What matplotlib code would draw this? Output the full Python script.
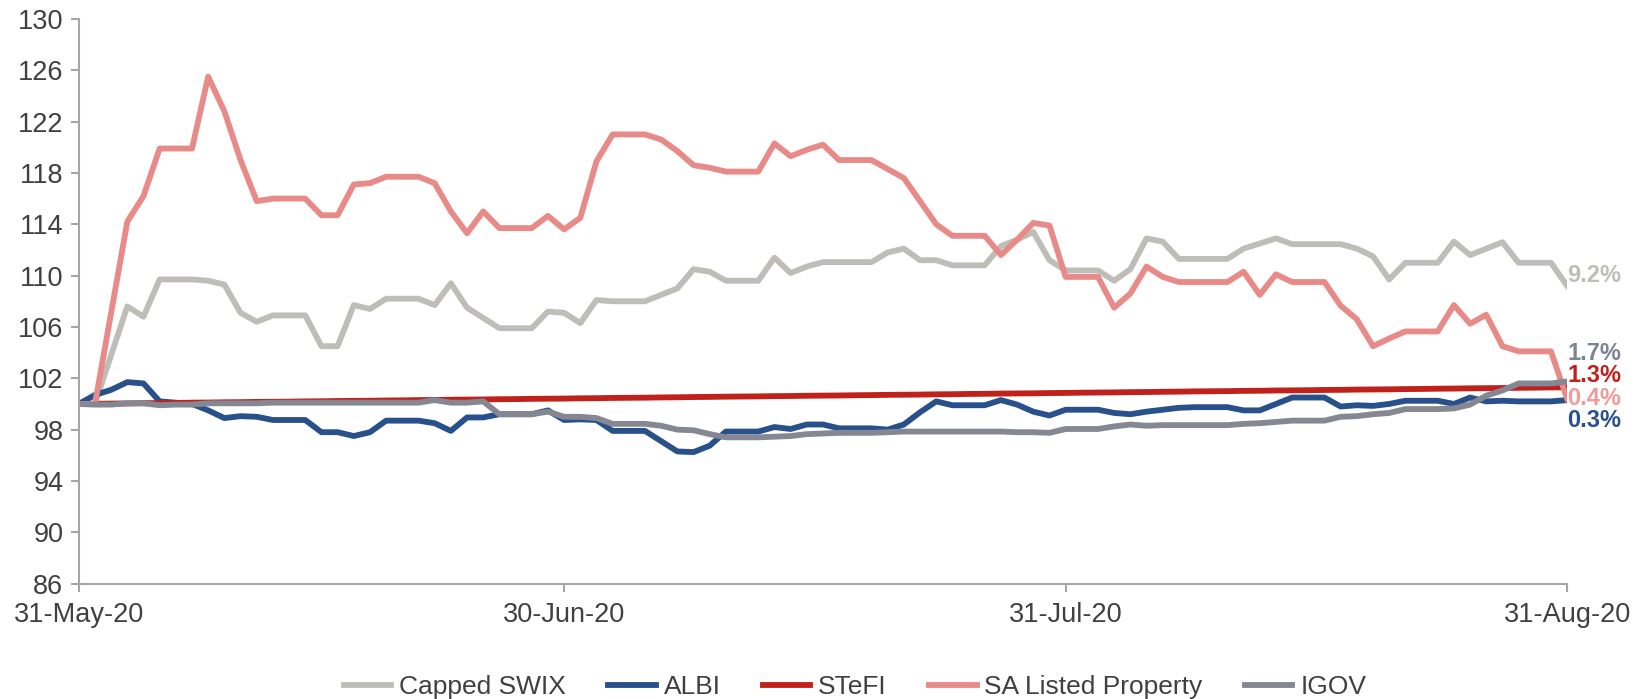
import pandas as pd
import matplotlib.pyplot as plt
import matplotlib.dates as mdates

# daily index values, 31-May-20 .. 31-Aug-20 (base 100)
dates = pd.date_range('2020-05-31', '2020-08-31', freq='D')

capped_swix = [
    100.0, 100.0, 103.8, 107.6, 106.8, 109.7, 109.7, 109.7, 109.6, 109.3,
    107.1, 106.4, 106.9, 106.9, 106.9, 104.5, 104.5, 107.7, 107.4, 108.2,
    108.2, 108.2, 107.7, 109.4, 107.5, 106.7, 105.9, 105.9, 105.9, 107.2,
    107.1, 106.3, 108.1, 108.0, 108.0, 108.0, 108.5, 109.0, 110.5, 110.3,
    109.6, 109.6, 109.6, 111.4, 110.2, 110.7, 111.05, 111.05, 111.05, 111.05,
    111.8, 112.1, 111.2, 111.2, 110.8, 110.8, 110.8, 112.3, 112.8, 113.4,
    111.2, 110.4, 110.4, 110.4, 109.6, 110.5, 112.9, 112.65, 111.3, 111.3,
    111.3, 111.3, 112.1, 112.5, 112.9, 112.45, 112.45, 112.45, 112.45, 112.1,
    111.5, 109.7, 111.0, 111.0, 111.0, 112.65, 111.6, 112.1, 112.6, 111.0,
    111.0, 111.0, 109.2,
]

albi = [
    100.0, 100.7, 101.1, 101.7, 101.6, 100.2, 100.1, 100.0, 99.5, 98.9,
    99.05, 99.0, 98.75, 98.75, 98.75, 97.8, 97.8, 97.5, 97.8, 98.7,
    98.7, 98.7, 98.5, 97.9, 98.95, 98.95, 99.2, 99.2, 99.2, 99.5,
    98.75, 98.8, 98.75, 97.9, 97.9, 97.9, 97.1, 96.3, 96.25, 96.75,
    97.85, 97.85, 97.85, 98.2, 98.05, 98.4, 98.4, 98.1, 98.1, 98.1,
    98.0, 98.4, 99.35, 100.2, 99.9, 99.9, 99.9, 100.3, 99.95, 99.4,
    99.1, 99.55, 99.55, 99.55, 99.3, 99.2, 99.4, 99.55, 99.7, 99.75,
    99.75, 99.75, 99.5, 99.5, 100.0, 100.5, 100.5, 100.5, 99.8, 99.9,
    99.85, 100.0, 100.25, 100.25, 100.25, 100.0, 100.5, 100.2, 100.25, 100.2,
    100.2, 100.2, 100.3,
]

stefi = [
    100.00, 100.01, 100.03, 100.04, 100.06, 100.07, 100.08, 100.10, 100.11, 100.13,
    100.14, 100.16, 100.17, 100.18, 100.20, 100.21, 100.23, 100.24, 100.25, 100.27,
    100.28, 100.30, 100.31, 100.33, 100.34, 100.35, 100.37, 100.38, 100.40, 100.41,
    100.42, 100.44, 100.45, 100.47, 100.48, 100.49, 100.51, 100.52, 100.54, 100.55,
    100.57, 100.58, 100.59, 100.61, 100.62, 100.64, 100.65, 100.66, 100.68, 100.69,
    100.71, 100.72, 100.73, 100.75, 100.76, 100.78, 100.79, 100.81, 100.82, 100.83,
    100.85, 100.86, 100.88, 100.89, 100.90, 100.92, 100.93, 100.95, 100.96, 100.98,
    100.99, 101.00, 101.02, 101.03, 101.05, 101.06, 101.07, 101.09, 101.10, 101.12,
    101.13, 101.14, 101.16, 101.17, 101.19, 101.20, 101.22, 101.23, 101.24, 101.26,
    101.27, 101.29, 101.30,
]

sa_listed_property = [
    100.0, 100.0, 107.1, 114.2, 116.2, 119.9, 119.9, 119.9, 125.5, 122.8,
    119.0, 115.8, 116.0, 116.0, 116.0, 114.7, 114.7, 117.1, 117.2, 117.7,
    117.7, 117.7, 117.2, 115.0, 113.3, 115.0, 113.7, 113.7, 113.7, 114.65,
    113.6, 114.5, 118.9, 121.0, 121.0, 121.0, 120.6, 119.7, 118.6, 118.4,
    118.1, 118.1, 118.1, 120.3, 119.3, 119.8, 120.2, 119.0, 119.0, 119.0,
    118.3, 117.6, 115.8, 114.0, 113.1, 113.1, 113.1, 111.6, 112.8, 114.1,
    113.9, 109.9, 109.9, 109.9, 107.5, 108.6, 110.7, 109.9, 109.5, 109.5,
    109.5, 109.5, 110.3, 108.5, 110.1, 109.5, 109.5, 109.5, 107.65, 106.6,
    104.5, 105.1, 105.65, 105.65, 105.65, 107.7, 106.25, 106.95, 104.5, 104.1,
    104.1, 104.1, 100.4,
]

igov = [
    100.0, 99.95, 99.95, 100.05, 100.05, 99.9, 99.95, 99.95, 100.05, 100.05,
    100.05, 100.05, 100.1, 100.1, 100.1, 100.1, 100.1, 100.1, 100.1, 100.1,
    100.1, 100.1, 100.3, 100.1, 100.1, 100.2, 99.2, 99.2, 99.2, 99.4,
    99.0, 99.0, 98.9, 98.45, 98.45, 98.45, 98.3, 98.0, 97.95, 97.65,
    97.4, 97.4, 97.4, 97.45, 97.5, 97.65, 97.7, 97.75, 97.75, 97.75,
    97.8, 97.85, 97.85, 97.85, 97.85, 97.85, 97.85, 97.85, 97.8, 97.8,
    97.75, 98.05, 98.05, 98.05, 98.25, 98.4, 98.3, 98.35, 98.35, 98.35,
    98.35, 98.35, 98.45, 98.5, 98.6, 98.7, 98.7, 98.7, 99.0, 99.05,
    99.2, 99.3, 99.6, 99.6, 99.6, 99.65, 99.95, 100.65, 101.05, 101.6,
    101.6, 101.6, 101.75,
]

series = ['Capped SWIX', 'ALBI', 'STeFI', 'SA Listed Property', 'IGOV']
values = [capped_swix, albi, stefi, sa_listed_property, igov]
colors = ['#BEBDB7', '#28508A', '#C0211B', '#E88A88', '#858892']
label_colors = ['#BEBDB7', '#28508A', '#C0211B', '#EE9C99', '#7F838F']
end_labels = ['9.2%', '0.3%', '1.3%', '0.4%', '1.7%']
label_y = [110.0, 98.75, 102.25, 100.45, 103.95]

yticks = list(range(86, 131, 4))
xtick_dates = pd.to_datetime(['2020-05-31', '2020-06-30', '2020-07-31', '2020-08-31'])

plt.rcParams['font.family'] = ['Liberation Sans', 'DejaVu Sans']

fig = plt.figure(figsize=(16.41, 6.99), dpi=100)
ax = fig.add_axes([0.048, 0.165, 0.907, 0.808])

for name, vals, col in zip(series, values, colors):
    ax.plot(dates, vals, color=col, lw=4.2, label=name, solid_joinstyle='round')

for txt, col, yv in zip(end_labels, label_colors, label_y):
    ax.text(dates[-1], yv, txt, color=col, fontsize=17, fontweight='bold',
            ha='left', va='center', clip_on=False)

ax.set_xlim(dates[0], dates[-1])
ax.set_ylim(86, 130)
ax.set_yticks(yticks)
ax.set_xticks(xtick_dates)
ax.xaxis.set_major_formatter(mdates.DateFormatter('%d-%b-%y'))

for side in ['top', 'right']:
    ax.spines[side].set_visible(False)
for side in ['left', 'bottom']:
    ax.spines[side].set_color('#A6A6A6')
    ax.spines[side].set_linewidth(1.5)

ax.tick_params(axis='both', colors='#A6A6A6', width=1.5, length=6,
               labelsize=19.5, labelcolor='#404040')
ax.tick_params(axis='x', pad=7)
ax.tick_params(axis='y', pad=5)

leg = fig.legend(loc='center', bbox_to_anchor=(0.521, 0.017), ncol=5, frameon=False,
                 handlelength=1.8, handletextpad=0.3, columnspacing=1.6,
                 prop={'family': ['Liberation Sans Narrow', 'Liberation Sans'], 'size': 19})
for t in leg.get_texts():
    t.set_color('#404040')

plt.savefig('out.png', dpi=100)
